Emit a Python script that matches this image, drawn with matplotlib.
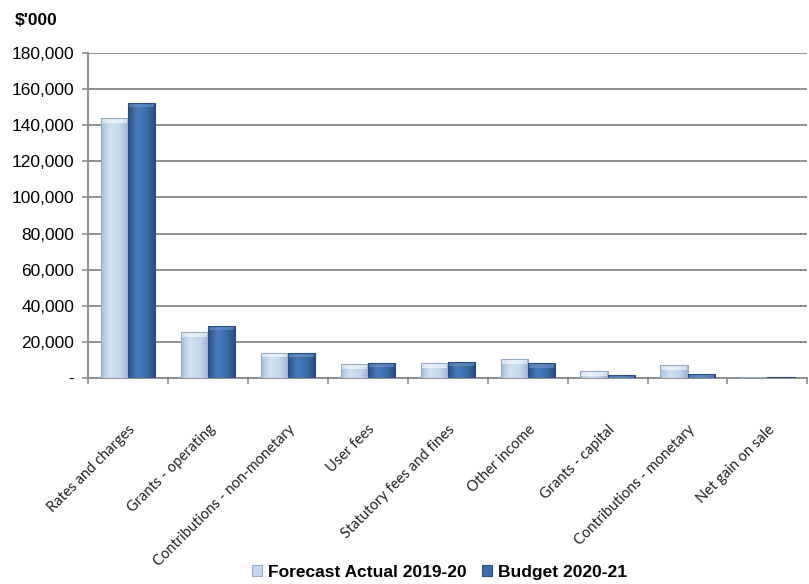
import matplotlib.pyplot as plt
import numpy as np
from matplotlib.colors import LinearSegmentedColormap

# income categories ($'000)
categories = ['Rates and charges', 'Grants - operating', 'Contributions - non-monetary',
              'User fees', 'Statutory fees and fines', 'Other income', 'Grants - capital',
              'Contributions - monetary', 'Net gain on sale']
forecast = [144000, 25200, 14000, 7500, 8300, 10200, 3600, 7000, 200]
budget = [152500, 29000, 14000, 8400, 9000, 8300, 1700, 2300, 200]

yticks = [0, 20000, 40000, 60000, 80000, 100000, 120000, 140000, 160000, 180000]
ytick_labels = ['-', '20,000', '40,000', '60,000', '80,000', '100,000',
                '120,000', '140,000', '160,000', '180,000']

light = '#c4d7ee'
dark = '#3d6ca8'
grid_col = '#8f8f8f'

# horizontal shading to get something like the bevelled excel bars
light_cmap = LinearSegmentedColormap.from_list('l', ['#a8bedb', '#d3e2f4', '#c4d7ee', '#9fb5d2'])
dark_cmap = LinearSegmentedColormap.from_list('d', ['#2a5186', '#4a7cb9', '#3d6ca8', '#274b7c'])


def shade(ax, bars, cmap, top_col):
    grad = np.linspace(0, 1, 64).reshape(1, -1)
    for b in bars:
        x0, y0 = b.get_x(), b.get_y()
        bw, bh = b.get_width(), b.get_height()
        im = ax.imshow(grad, cmap=cmap, aspect='auto', extent=(x0, x0 + bw, y0, y0 + bh),
                       zorder=3.5, interpolation='bicubic')
        im.set_clip_path(b)
        # bevel on the top of each bar
        bev = min(bh, 2600)
        ax.bar(x0 + bw / 2, bev, bw * 0.94, bottom=y0 + bh - bev, color=top_col,
               alpha=0.55, linewidth=0, zorder=3.6)


fig = plt.figure(figsize=(8.09, 5.84), dpi=100)
ax = fig.add_axes([0.109, 0.353, 0.889, 0.556])

x = np.arange(len(categories))
w = 0.34
b1 = ax.bar(x - w / 2, forecast, w, color=light, edgecolor='#98acc6', linewidth=0.8,
            label='Forecast Actual 2019-20', zorder=3)
b2 = ax.bar(x + w / 2, budget, w, color=dark, edgecolor='#284d7e', linewidth=0.8,
            label='Budget 2020-21', zorder=3)
shade(ax, b1, light_cmap, '#ffffff')
shade(ax, b2, dark_cmap, '#6f98cc')
for b in list(b1) + list(b2):
    b.set_zorder(3.7)
    b.set_facecolor('none')

ax.set_xlim(-0.5, len(categories) - 0.5)
ax.set_ylim(0, 180000)
ax.set_yticks(yticks)
ax.set_yticklabels(ytick_labels, fontsize=12.5, family='Liberation Sans')
ax.yaxis.grid(True, color=grid_col, linewidth=1.4, zorder=0)

# category ticks sit between the groups, labels centred under each group
ax.set_xticks(np.arange(len(categories) + 1) - 0.5)
ax.set_xticklabels([])
ax.set_xticks(x, minor=True)
ax.set_xticklabels(categories, minor=True, rotation=45, ha='right',
                   rotation_mode='anchor', fontsize=10.5, family='Lato', color='#222222')
ax.tick_params(axis='x', which='minor', length=0, pad=32)
ax.tick_params(axis='x', which='major', length=4, color=grid_col, width=1.2)
ax.tick_params(axis='y', length=4, color=grid_col, width=1.2, pad=6)

for s in ['top', 'right']:
    ax.spines[s].set_visible(False)
for s in ['left', 'bottom']:
    ax.spines[s].set_color(grid_col)
    ax.spines[s].set_linewidth(1.4)

fig.text(0.018, 0.958, "$'000", fontsize=12.5, fontweight='bold', family='Liberation Sans')

leg = fig.legend(handles=[b1, b2], loc='lower center', bbox_to_anchor=(0.543, -0.02), ncol=2,
                 frameon=False, prop={'family': 'Liberation Sans', 'weight': 'bold', 'size': 12.5},
                 handlelength=0.6, handleheight=0.6, handletextpad=0.3, columnspacing=0.9)
for h, c in zip(leg.legend_handles, [light, dark]):
    h.set_facecolor(c)

fig.savefig('out.png', dpi=100)
